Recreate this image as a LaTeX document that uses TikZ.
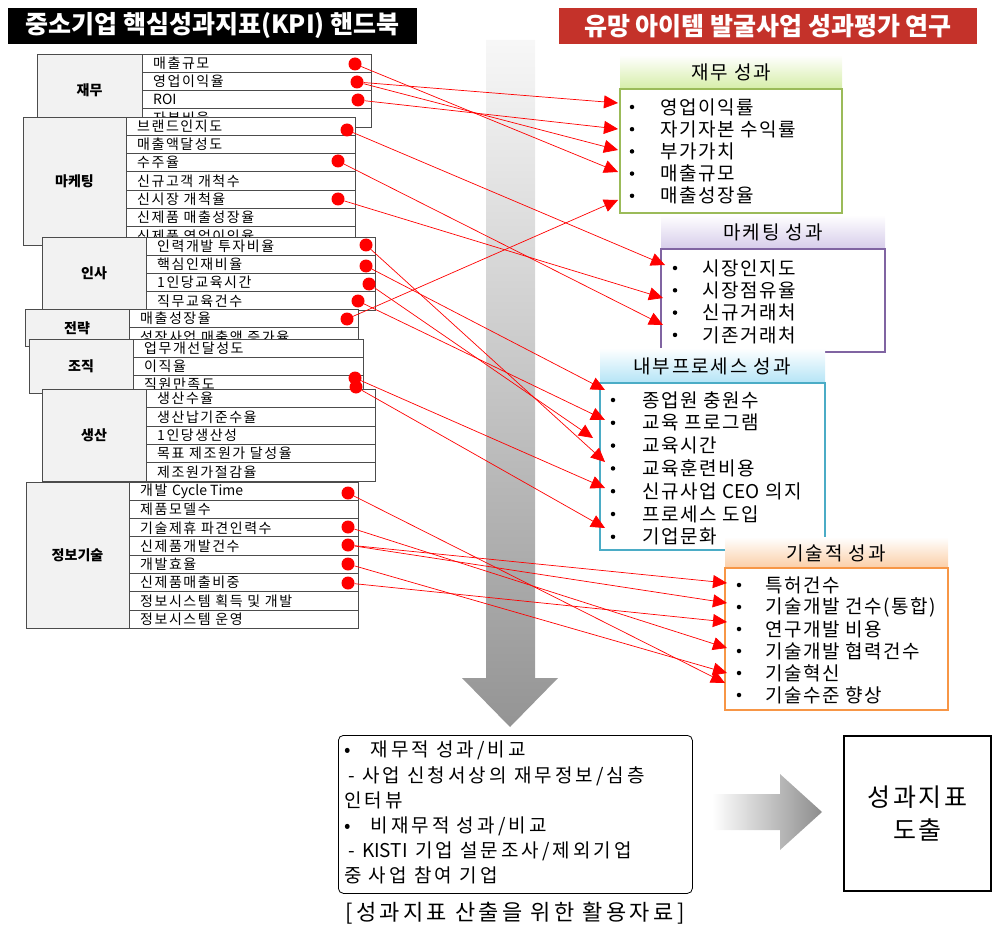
\documentclass[tikz,border=0pt]{standalone}
\usepackage{fontspec}
\setmainfont{Noto Sans CJK KR}
\usetikzlibrary{arrows.meta, positioning}

\definecolor{labelgray}{RGB}{242,242,242}
\definecolor{finGreen}{RGB}{155,187,89}
\definecolor{finShade}{RGB}{214,238,168}
\definecolor{mktPurple}{RGB}{128,100,162}
\definecolor{mktShade}{RGB}{214,204,234}
\definecolor{proBlue}{RGB}{75,172,198}
\definecolor{proShade}{RGB}{180,228,246}
\definecolor{tecOrange}{RGB}{247,150,70}
\definecolor{tecShade}{RGB}{251,206,166}
\definecolor{titleRed}{RGB}{196,50,42}

\tikzset{
  kpidot/.style={circle, fill=red, inner sep=0pt, minimum size=13pt},
  link/.style={draw=red, line width=0.7pt, -{Triangle[length=14pt, width=13pt]}},
  tableline/.style={draw=black!70, line width=0.9pt},
  grouplabel/.style={font=\fontsize{14}{16}\selectfont\bfseries},
  rowtext/.style={anchor=west, inner sep=0pt, font=\fontsize{14}{15}\selectfont\addfontfeature{LetterSpace=11}},
  headtitle/.style={font=\fontsize{19}{20}\selectfont\addfontfeature{LetterSpace=10}},
  bulletmark/.style={circle, fill=black, inner sep=0pt, minimum size=4.5pt},
  resultitem/.style={anchor=west, inner sep=0pt, font=\fontsize{19}{20}\selectfont\addfontfeature{LetterSpace=8}},
  titlebar/.style={text=white, inner sep=0pt, minimum height=36pt, font=\fontsize{25}{28}\selectfont\bfseries}
}

% latin words without the extra tracking
\newcommand{\plainlat}[1]{{\addfontfeature{LetterSpace=0}#1}}

% one KPI table: name, x left, x divider, x right, y top, rows, label, items
\newcommand{\kpigroup}[8]{%
  \pgfmathsetmacro{\ybot}{#5+#6*18.3}
  \draw[tableline, fill=white] (#2,#5) rectangle (#4,\ybot);
  \draw[tableline, fill=labelgray] (#2,#5) rectangle (#3,\ybot);
  \node[grouplabel] (#1) at ({(#2+#3)/2},{(#5+\ybot)/2}) {#7};
  \foreach \t [count=\i] in {#8} {
    \draw[tableline] (#3,{#5+(\i-1)*18.3}) rectangle (#4,{#5+\i*18.3});
    \node[rowtext] (#1-\i) at (#3+11,{#5+(\i-0.5)*18.3}) {\t};
  }
}

\begin{document}
\begin{tikzpicture}[x=1pt, y=-1pt]
  \useasboundingbox (0,0) rectangle (995,941);

  % titles
  \node[titlebar, fill=black, minimum width=409pt] (kpiBook) at (212.5,26) {중소기업 핵심성과지표(KPI) 핸드북};
  \node[titlebar, fill=titleRed, minimum width=418pt] (study) at (768,26) {유망 아이템 발굴사업 성과평가 연구};

  % big arrows
  \shade[top color=black!3, bottom color=black!42] (486,40) -- (535,40) -- (535,678) -- (558,678) -- (510,727) -- (462,678) -- (486,678) -- cycle;
  \shade[left color=white, right color=black!45] (712,794) -- (780,794) -- (780,774) -- (822,812) -- (780,850) -- (780,830) -- (712,830) -- cycle;

  % KPI handbook tables
  \kpigroup{fin}{37}{142}{371}{54}{4}{재무}{매출규모, 영업이익율, \plainlat{ROI}, 자본비율}
  \kpigroup{mkt}{23}{126}{355}{117}{7}{마케팅}{브랜드인지도, 매출액달성도, 수주율, 신규고객 개척수, 신시장 개척율, 신제품 매출성장율, 신제품 영업이익율}
  \kpigroup{hr}{42}{146}{375}{237}{4}{인사}{인력개발 투자비율, 핵심인재비율, 1인당교육시간, 직무교육건수}
  \kpigroup{str}{25}{129}{358}{309.5}{2}{전략}{매출성장율, 성장사업 매출액 증가율}
  \kpigroup{org}{29}{133}{363}{339}{3}{조직}{업무개선달성도, 이직율, 직원만족도}
  \kpigroup{prd}{42}{146}{375}{389.5}{5}{생산}{생산수율, 생산납기준수율, 1인당생산성, 목표 제조원가 달성율, 제조원가절감율}
  \kpigroup{it}{26}{129}{358}{482}{8}{정보기술}{개발 \plainlat{Cycle Time}, 제품모델수, 기술제휴 파견인력수, 신제품개발건수, 개발효율, 신제품매출비중, 정보시스템 획득 및 개발, 정보시스템 운영}

  % result boxes
  \shade[top color=white, bottom color=finShade] (620,55) rectangle (842,89);
  \node[headtitle] (finHead) at (731,72) {재무 성과};
  \draw[finGreen, line width=2.5pt, fill=white] (620,89) rectangle (842,213);
  \foreach \t [count=\i] in {영업이익률, 자기자본 수익률, 부가가치, 매출규모, 매출성장율} {
    \node[bulletmark] (finB\i) at (632,{107+(\i-1)*22.2}) {};
    \node[resultitem] (finI\i) at (660,{107+(\i-1)*22.2}) {\t};
  }

  \shade[top color=white, bottom color=mktShade] (661,215) rectangle (885,249);
  \node[headtitle] (mktHead) at (773,232) {마케팅 성과};
  \draw[mktPurple, line width=2.5pt, fill=white] (661,249) rectangle (885,352);
  \foreach \t [count=\i] in {시장인지도, 시장점유율, 신규거래처, 기존거래처} {
    \node[bulletmark] (mktB\i) at (675,{268+(\i-1)*22.3}) {};
    \node[resultitem] (mktI\i) at (702,{268+(\i-1)*22.3}) {\t};
  }

  \shade[top color=white, bottom color=proShade] (600,348) rectangle (825,383);
  \node[headtitle] (proHead) at (712,366) {내부프로세스 성과};
  \draw[proBlue, line width=2.5pt, fill=white] (600,383) rectangle (825,550);
  \foreach \t [count=\i] in {종업원 충원수, 교육 프로그램, 교육시간, 교육훈련비용, 신규사업 \plainlat{CEO} 의지, 프로세스 도입, 기업문화} {
    \node[bulletmark] (proB\i) at (613,{400+(\i-1)*22.8}) {};
    \node[resultitem] (proI\i) at (642,{400+(\i-1)*22.8}) {\t};
  }

  \shade[top color=white, bottom color=tecShade] (725,537) rectangle (948,568);
  \node[headtitle] (tecHead) at (836,553) {기술적 성과};
  \draw[tecOrange, line width=2.5pt, fill=white] (725,568) rectangle (948,710);
  \foreach \t [count=\i] in {특허건수, 기술개발 건수(통합), 연구개발 비용, 기술개발 협력건수, 기술혁신, 기술수준 향상} {
    \node[bulletmark] (tecB\i) at (739,{585+(\i-1)*22}) {};
    \node[resultitem] (tecI\i) at (765,{585+(\i-1)*22}) {\t};
  }

  % dots on the handbook items
  \node[kpidot] (dFin1) at (355,64) {};
  \node[kpidot] (dFin2) at (357,82) {};
  \node[kpidot] (dFin3) at (358,100) {};
  \node[kpidot] (dMkt1) at (347,130) {};
  \node[kpidot] (dMkt3) at (338,161) {};
  \node[kpidot] (dMkt5) at (338,199) {};
  \node[kpidot] (dHr1) at (366,245) {};
  \node[kpidot] (dHr2) at (366,266) {};
  \node[kpidot] (dHr3) at (369,284) {};
  \node[kpidot] (dHr4) at (358,301) {};
  \node[kpidot] (dStr1) at (347,319) {};
  \node[kpidot] (dOrgA) at (355,378) {};
  \node[kpidot] (dOrgB) at (356,387) {};
  \node[kpidot] (dIt1) at (348,493) {};
  \node[kpidot] (dIt3) at (348,527) {};
  \node[kpidot] (dIt4) at (348,545) {};
  \node[kpidot] (dIt5) at (348,564) {};
  \node[kpidot] (dIt6) at (348,583) {};

  % arrow ends at the result boxes
  \coordinate (tFin1) at (618,103);
  \coordinate (tFin2) at (618,129);
  \coordinate (tFin3) at (618,150);
  \coordinate (tFin4) at (618,172);
  \coordinate (tFin5) at (618,200);
  \coordinate (tMkt1) at (665,265);
  \coordinate (tMkt2) at (663,298);
  \coordinate (tMkt3) at (663,325);
  \coordinate (tPro1) at (605,390);
  \coordinate (tPro2) at (605,420);
  \coordinate (tPro3) at (593,438);
  \coordinate (tPro4) at (605,462);
  \coordinate (tPro5) at (605,488);
  \coordinate (tPro6) at (605,528);
  \coordinate (tTec1) at (727,583);
  \coordinate (tTec2) at (727,603);
  \coordinate (tTec3) at (727,622);
  \coordinate (tTec4) at (727,648);
  \coordinate (tTec5) at (727,673);
  \coordinate (tTec6) at (725,683);

  \draw[link] (dFin1) -- (tFin4);
  \draw[link] (dFin2) -- (tFin1);
  \draw[link] (dFin2) -- (tFin3);
  \draw[link] (dFin3) -- (tFin2);
  \draw[link] (dStr1) -- (tFin5);
  \draw[link] (dMkt1) -- (tMkt1);
  \draw[link] (dMkt5) -- (tMkt2);
  \draw[link] (dMkt3) -- (tMkt3);
  \draw[link] (dHr2) -- (tPro1);
  \draw[link] (dHr4) -- (tPro2);
  \draw[link] (dHr3) -- (tPro3);
  \draw[link] (dHr1) -- (tPro4);
  \draw[link] (dOrgA) -- (tPro5);
  \draw[link] (dOrgB) -- (tPro6);
  \draw[link] (dIt4) -- (tTec1);
  \draw[link] (dIt4) -- (tTec2);
  \draw[link] (dIt6) -- (tTec3);
  \draw[link] (dIt3) -- (tTec4);
  \draw[link] (dIt5) -- (tTec5);
  \draw[link] (dIt1) -- (tTec6);

  % data used and the outcome
  \node[draw, rounded corners=5pt, line width=0.8pt, minimum width=354pt, minimum height=158pt, anchor=north west] (useBox) at (338,735) {};
  \node[anchor=north west, align=left, inner sep=0pt, font=\fontsize{19}{25.2}\selectfont\addfontfeature{LetterSpace=16}] (useText) at (344,741)
    {•\hspace{20pt}재무적 성과/비교\\ \hspace*{4pt}- 사업 신청서상의 재무정보/심층\\인터뷰\\•\hspace{20pt}비재무적 성과/비교\\ \hspace*{4pt}- \plainlat{KISTI} 기업 설문조사/제외기업\\중 사업 참여 기업};
  \node[font=\fontsize{22}{24}\selectfont\addfontfeature{LetterSpace=15}] (useCap) at (515,913) {[성과지표 산출을 위한 활용자료]};
  \node[draw, line width=2.5pt, minimum width=147pt, minimum height=155pt, align=center, font=\fontsize{25}{33}\selectfont\addfontfeature{LetterSpace=10}] (kpiOut) at (917.5,813.5) {성과지표\\도출};
\end{tikzpicture}
\end{document}
